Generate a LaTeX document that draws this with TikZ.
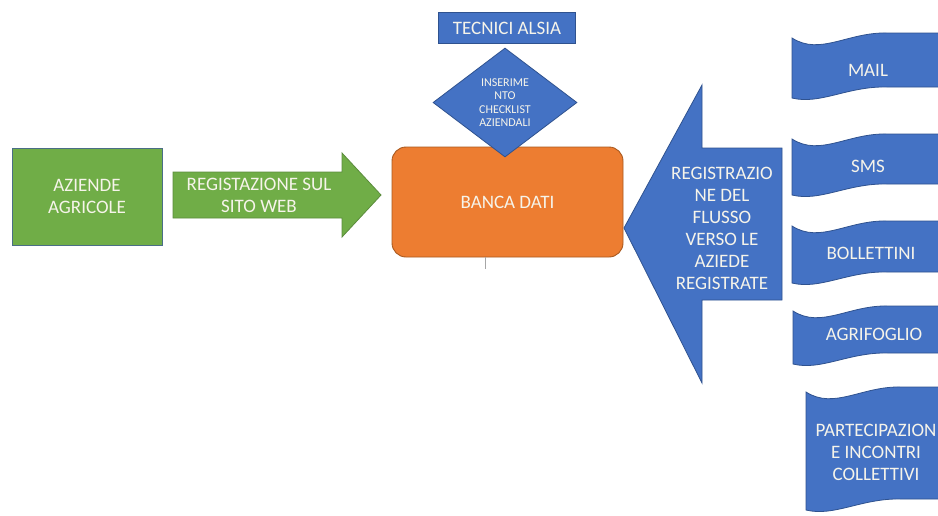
\documentclass[tikz,border=0pt]{standalone}
\usepackage{fontspec}
\setmainfont{Carlito}
\usetikzlibrary{shapes.geometric,calc}
\definecolor{gfill}{HTML}{70AD47}
\definecolor{gdraw}{HTML}{4A6E86}
\definecolor{gadraw}{HTML}{5B8C3C}
\definecolor{ofill}{HTML}{ED7D31}
\definecolor{odraw}{HTML}{A9591F}
\definecolor{bfill}{HTML}{4472C4}
\definecolor{bdraw}{HTML}{2F528F}
\definecolor{txtc}{HTML}{F6F4EA}
\tikzset{
  lbl/.style={text=txtc, align=center, font=\fontsize{19}{22}\selectfont, inner sep=0pt},
  smalllbl/.style={text=txtc, align=center, font=\fontsize{12}{13.4}\selectfont, inner sep=0pt},
  gbox/.style={lbl, fill=gfill, draw=gdraw, line width=0.9pt},
  obox/.style={lbl, fill=ofill, draw=odraw, line width=0.9pt, rounded corners=14pt},
  bbox/.style={lbl, fill=bfill, draw=bdraw, line width=0.8pt},
  bshape/.style={fill=bfill, draw=bdraw, line width=0.8pt},
  gshape/.style={fill=gfill, draw=gadraw, line width=0.8pt},
}
\newcommand{\mywave}[3]{%
  \path[bshape] (#1,#2) .. controls ($(#1,#2)+(28,18)$) and ($(#1,#2)+(56,-6)$) .. ($(#1,#2)+(95,-5)$)
    -- (960,{#2-5}) -- (960,{#3-11})
    -- ($(#1,#3)+(95,-11)$) .. controls ($(#1,#3)+(56,-12)$) and ($(#1,#3)+(28,7)$) .. (#1,#3) -- cycle;}
\begin{document}
\begin{tikzpicture}[x=1pt,y=-1pt]
\path[use as bounding box] (0,0) rectangle (938,515);
\clip (0,0) rectangle (938,515);
\fill[white] (0,0) rectangle (938,515);

% left green box
\node[gbox, minimum width=150pt, minimum height=97pt] (az) at (87,196.5) {AZIENDE\\AGRICOLE};

% green arrow
\path[gshape] (173,172) -- (342,172) -- (342,153) -- (381,195) -- (342,237) -- (342,218) -- (173,218) -- cycle;
\node[lbl] (reg) at (259,195) {REGISTAZIONE SUL\\SITO WEB};

% database
\node[obox, minimum width=231pt, minimum height=110pt] (bd) at (507.5,202) {BANCA DATI};
\coordinate (bdtail) at (485,269);
\draw[gray!70, line width=0.6pt] (bd.south -| bdtail) -- (bdtail);

% technicians
\node[bbox, minimum width=137pt, minimum height=31pt] (tec) at (507,28) {TECNICI ALSIA};
\node[diamond, aspect=1.32, fill=bfill, draw=bdraw, line width=0.8pt, smalllbl, inner sep=1pt,
      minimum width=144pt, minimum height=109pt] (ins) at (505,102.5)
      {INSERIME\\NTO\\CHECKLIST\\AZIENDALI};

% blue left arrow
\path[bshape] (782,148) -- (702,148) -- (702,85) -- (624,228) -- (702,383) -- (702,300) -- (782,300) -- cycle;
\node[lbl] (flux) at (722,228) {REGISTRAZIO\\NE DEL\\FLUSSO\\VERSO LE\\AZIEDE\\REGISTRATE};

% banners
\mywave{792}{38}{98}
\node[lbl] (mail) at (868,70) {MAIL};
\mywave{792}{139}{195}
\node[lbl] (sms) at (868,166) {SMS};
\mywave{792}{226}{283}
\node[lbl] (boll) at (871,253) {BOLLETTINI};
\mywave{793}{311}{364}
\node[lbl] (agri) at (874,334) {AGRIFOGLIO};
\mywave{806}{392}{510}
\node[lbl] (part) at (876,452) {PARTECIPAZION\\E INCONTRI\\COLLETTIVI};
\end{tikzpicture}
\end{document}
